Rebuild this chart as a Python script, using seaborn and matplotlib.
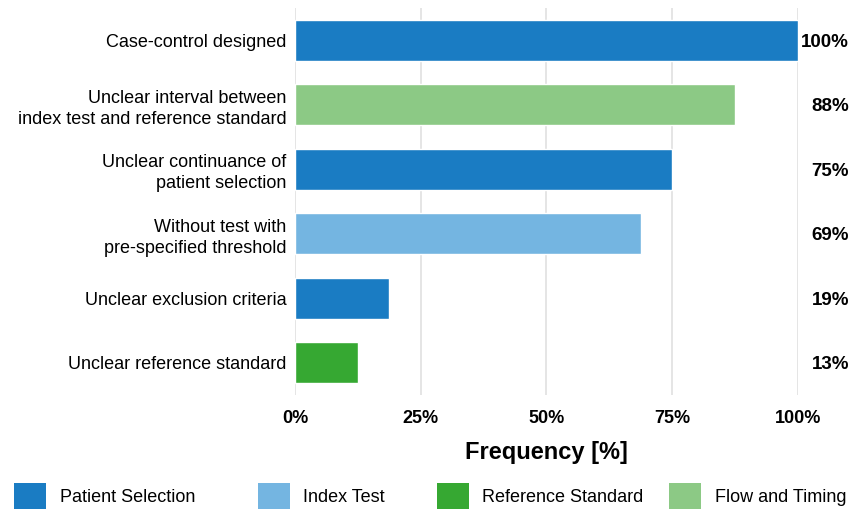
import matplotlib
matplotlib.use("Agg")
import matplotlib.pyplot as plt
import seaborn as sns
import pandas as pd
from matplotlib.patches import Rectangle
from matplotlib.ticker import FuncFormatter
import matplotlib.transforms as mtransforms

sns.set_style("white")
plt.rcParams["font.family"] = ["Liberation Sans", "DejaVu Sans"]
plt.rcParams["text.color"] = "black"
plt.rcParams["xtick.color"] = "black"
plt.rcParams["ytick.color"] = "black"
plt.rcParams["axes.labelcolor"] = "black"

items = [
    "Case-control designed",
    "Unclear interval between\nindex test and reference standard",
    "Unclear continuance of\npatient selection",
    "Without test with\npre-specified threshold",
    "Unclear exclusion criteria",
    "Unclear reference standard",
]
frequency = [100.0, 87.5, 75.0, 68.75, 18.75, 12.5]
domain = [
    "Patient Selection",
    "Flow and Timing",
    "Patient Selection",
    "Index Test",
    "Patient Selection",
    "Reference Standard",
]
domains = ["Patient Selection", "Index Test", "Reference Standard", "Flow and Timing"]
colors = ["#1a7cc3", "#74b5e1", "#36a832", "#8cc985"]
palette = dict(zip(domains, colors))

df = pd.DataFrame({"item": items, "frequency": frequency, "domain": domain})

W, H = 862, 509
fig = plt.figure(figsize=(W / 100, H / 100), dpi=100)
ax = fig.add_axes([295 / W, 1 - 395 / H, 503 / W, 387 / H])

sns.barplot(data=df, x="frequency", y="item", hue="domain", hue_order=domains,
            palette=palette, dodge=False, width=0.64, orient="h", ax=ax,
            legend=False, saturation=1)

ax.set_xlim(0, 100)
ax.set_ylim(5.5, -0.5)
ax.set_xticks([0, 25, 50, 75, 100])
ax.xaxis.set_major_formatter(FuncFormatter(lambda v, p: f"{v:.0f}%"))
ax.grid(axis="x", color="#e0e0e0", linewidth=1.2)
ax.set_axisbelow(True)
for s in ax.spines.values():
    s.set_visible(False)
ax.tick_params(axis="x", length=0, pad=11, labelsize=13)
ax.tick_params(axis="y", length=0, pad=6, labelsize=13)
for t in ax.get_xticklabels():
    t.set_fontweight("bold")
for t in ax.get_yticklabels():
    t.set_horizontalalignment("right")
    t.set_linespacing(1.3)
ax.set_ylabel("")
ax.set_xlabel("Frequency [%]", fontsize=17, fontweight="bold", labelpad=10)

trans = mtransforms.blended_transform_factory(ax.transAxes, ax.transData)
for i, v in enumerate(frequency):
    ax.text(554 / 503, i, f"{int(v + 0.5)}%", transform=trans, ha="right",
            va="center_baseline", fontsize=13.5, fontweight="bold")

# legend row along the bottom edge
patch_x = [14, 258, 437, 669]
text_x = [60, 303, 482, 715]
for px, tx, c, name in zip(patch_x, text_x, colors, domains):
    fig.patches.append(Rectangle((px / W, 0), 32 / W, 26 / H, transform=fig.transFigure,
                                 facecolor=c, edgecolor="none"))
    fig.text(tx / W, 1 - 497 / H, name, ha="left", va="center", fontsize=13)

fig.savefig("out.png", dpi=100)
